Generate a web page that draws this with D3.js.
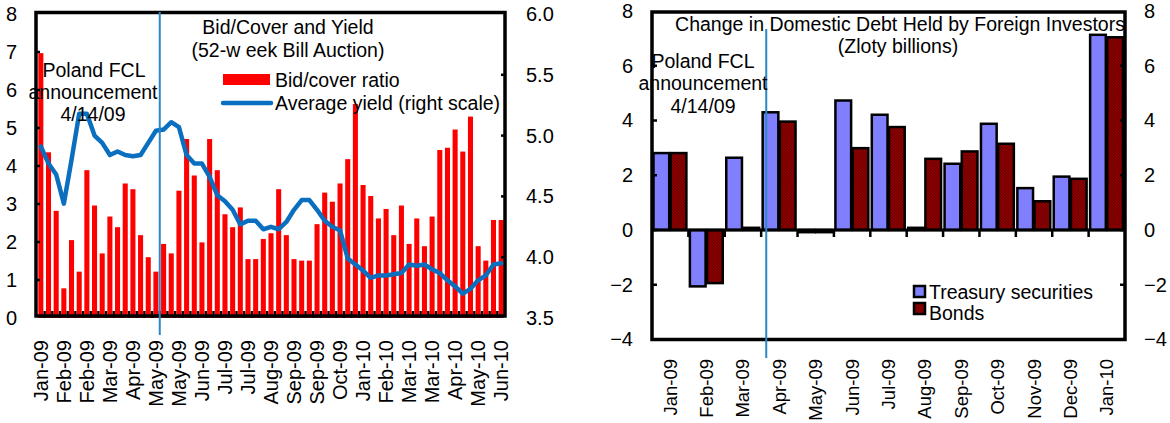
<!DOCTYPE html>
<html>
<head>
<meta charset="utf-8">
<script src="https://cdn.jsdelivr.net/npm/d3@7"></script>
<style>
  body { margin: 0; background: #fff; }
  svg { display: block; font-family: "Liberation Sans", Arial, sans-serif; }
</style>
</head>
<body>
<svg id="chart" width="1170" height="423"></svg>
<script>
// ---- Left panel: 52-week bill auctions ----
const auctionTickLabels = ["Jan-09","Feb-09","Feb-09","Mar-09","Apr-09","May-09","May-09","Jun-09","Jul-09","Jul-09",
  "Aug-09","Sep-09","Sep-09","Oct-09","Jan-10","Feb-10","Mar-10","Mar-10","Apr-10","May-10","Jun-10"];
const bidCover = [6.97,4.36,2.82,0.78,2.05,1.22,3.89,2.96,1.70,2.67,2.39,3.54,3.39,2.18,1.60,1.22,
  1.95,1.70,3.35,4.71,3.75,1.99,4.71,3.89,2.73,2.39,2.91,1.55,1.55,2.08,2.23,
  3.39,2.18,1.55,1.51,1.51,2.47,3.30,3.06,3.54,4.18,5.63,3.50,3.21,2.62,2.87,2.18,
  2.96,1.95,2.62,1.89,2.67,4.42,4.48,4.96,4.38,5.30,1.89,1.51,2.58,2.58];
const avgYield = [4.91,4.77,4.68,4.44,4.80,5.18,5.18,5.00,4.94,4.84,4.87,4.84,4.83,4.84,4.94,5.04,
  5.05,5.11,5.07,4.84,4.77,4.77,4.66,4.51,4.46,4.39,4.27,4.30,4.30,4.23,4.25,
  4.23,4.29,4.39,4.47,4.47,4.39,4.30,4.25,4.22,3.99,3.94,3.89,3.83,3.85,3.85,3.86,
  3.87,3.94,3.93,3.94,3.90,3.87,3.81,3.76,3.70,3.74,3.81,3.85,3.94,3.95];
const ratioTicks = [0,1,2,3,4,5,6,7,8];
const yieldTicks = [3.5,4.0,4.5,5.0,5.5,6.0];
const fclAuctionIndex = 16; // first auction after the FCL announcement

// ---- Right panel: foreign holdings of domestic debt ----
const months = ["Jan-09","Feb-09","Mar-09","Apr-09","May-09","Jun-09","Jul-09","Aug-09","Sep-09","Oct-09","Nov-09","Dec-09","Jan-10"];
const treasury = [2.81,-2.06,2.64,4.30,-0.08,4.73,4.21,0.08,2.42,3.88,1.53,1.95,7.13];
const bonds    = [2.81,-1.94,0.08,3.96,-0.08,2.99,3.76,2.60,2.87,3.15,1.05,1.87,7.04];
const debtTicks = [-4,-2,0,2,4,6,8];
const fclMonth = "Apr-09";
const fclMonthFraction = 0.14; // 14 April within the month band

const svg = d3.select("#chart");
const FONT = 19.5;

const defs = svg.append("defs");
const pat = defs.append("pattern").attr("id", "bondHatch")
  .attr("patternUnits", "userSpaceOnUse").attr("width", 3).attr("height", 3);
pat.append("rect").attr("width", 3).attr("height", 3).attr("fill", "#8f0000");
pat.append("path").attr("d", "M0,3 L3,0 M-1,1 L1,-1 M2,4 L4,2").attr("stroke", "#5c0000").attr("stroke-width", 0.9);

// ================= LEFT PANEL =================
{
  const L = {x0: 36, x1: 505, y0: 12.5, y1: 316};
  const x = d3.scaleBand().domain(d3.range(bidCover.length)).range([37, 505])
    .paddingInner(0.34).paddingOuter(0.17);
  const yL = d3.scaleLinear().domain([0, 8]).range([318, 14]);
  const yR = d3.scaleLinear().domain([3.5, 6]).range([318, 14]);
  const g = svg.append("g");
  const step = x.step();

  // bars
  g.selectAll("rect.bar").data(bidCover).join("rect")
    .attr("class", "bar")
    .attr("x", (d, i) => x(i))
    .attr("width", x.bandwidth())
    .attr("y", d => yL(d))
    .attr("height", d => yL(0) - yL(d))
    .attr("fill", "#ff0000");

  // small ticks between bars along the base
  const gapX = i => x(i) - step * x.paddingInner() / 2;
  g.selectAll("line.btick").data(d3.range(1, bidCover.length)).join("line")
    .attr("class", "btick")
    .attr("x1", gapX).attr("x2", gapX)
    .attr("y1", 311).attr("y2", 318)
    .attr("stroke", "#000").attr("stroke-width", 2.4);

  // frame
  g.append("rect").attr("x", L.x0).attr("y", L.y0)
    .attr("width", L.x1 - L.x0).attr("height", L.y1 - L.y0)
    .attr("fill", "none").attr("stroke", "#000").attr("stroke-width", 3.5);

  // yield line
  const line = d3.line().x((d, i) => x(i) + x.bandwidth() / 2).y(d => yR(d));
  g.append("path").datum(avgYield).attr("d", line)
    .attr("fill", "none").attr("stroke", "#0a6fbf").attr("stroke-width", 4.5)
    .attr("stroke-linejoin", "round").attr("stroke-linecap", "round");

  // axis ticks (small marks on both frame sides)
  g.selectAll("line.lt").data(ratioTicks.slice(1, -1)).join("line")
    .attr("x1", L.x0 - 1).attr("x2", L.x0 + 4).attr("y1", d => yL(d)).attr("y2", d => yL(d))
    .attr("stroke", "#000").attr("stroke-width", 2.5);
  g.selectAll("line.rt").data(yieldTicks.slice(1, -1)).join("line")
    .attr("x1", L.x1 - 4).attr("x2", L.x1 + 1).attr("y1", d => yR(d)).attr("y2", d => yR(d))
    .attr("stroke", "#000").attr("stroke-width", 2.5);

  // left axis labels
  const axL = d3.axisLeft(yL).tickValues(ratioTicks).tickSize(0).tickPadding(0).tickFormat(d3.format("d"));
  const gl = g.append("g").attr("transform", "translate(17,0)").call(axL);
  gl.select(".domain").remove();
  gl.selectAll("text").attr("font-size", 20).attr("font-family", "Liberation Sans, Arial").attr("fill", "#000");

  // right axis labels
  const axR = d3.axisRight(yR).tickValues(yieldTicks).tickSize(0).tickPadding(0).tickFormat(d3.format(".1f"));
  const gr = g.append("g").attr("transform", "translate(526,0)").call(axR);
  gr.select(".domain").remove();
  gr.selectAll("text").attr("font-size", 20).attr("font-family", "Liberation Sans, Arial").attr("fill", "#000");

  // category labels every third auction
  const labelIdx = d3.range(0, bidCover.length, 3);
  const axB = d3.axisBottom(x).tickValues(labelIdx).tickSize(0)
    .tickFormat((d, i) => auctionTickLabels[i]);
  const gb = g.append("g").attr("transform", "translate(0,340)").call(axB);
  gb.select(".domain").remove();
  gb.selectAll("text")
    .attr("font-size", 20).attr("font-family", "Liberation Sans, Arial").attr("fill", "#000")
    .attr("transform", "rotate(-90)")
    .attr("text-anchor", "end").attr("x", 0).attr("y", 0).attr("dy", "0.35em");

  // announcement marker
  const vx = gapX(fclAuctionIndex);
  g.append("line").attr("x1", vx).attr("x2", vx).attr("y1", 12).attr("y2", 335)
    .attr("stroke", "#2a88c8").attr("stroke-width", 2);

  const txt = (t, tx, ty, anchor = "middle") => g.append("text").text(t)
    .attr("x", tx).attr("y", ty).attr("dy", "0.35em").attr("text-anchor", anchor)
    .attr("font-size", FONT).attr("fill", "#000");

  txt("Poland FCL", 94, 70);
  txt("announcement", 93, 92);
  txt("4/14/09", 93, 114);

  txt("Bid/Cover and Yield", 288, 27);
  txt("(52-w eek Bill Auction)", 288, 50);

  // legend
  g.append("rect").attr("x", 223).attr("y", 74).attr("width", 47).attr("height", 11).attr("fill", "#ff0000");
  txt("Bid/cover ratio", 275, 80, "start");
  g.append("line").attr("x1", 223).attr("x2", 271).attr("y1", 103).attr("y2", 103)
    .attr("stroke", "#0a6fbf").attr("stroke-width", 4.5).attr("stroke-linecap", "round");
  txt("Average yield (right scale)", 275, 103, "start");
}

// ================= RIGHT PANEL =================
{
  const R = {x0: 652, x1: 1125, y0: 12, y1: 339.5};
  const x = d3.scaleBand().domain(months).range([R.x0, R.x1]);
  const y = d3.scaleLinear().domain([-4, 8]).range([339.5, 11]);
  const g = svg.append("g");
  const step = x.step();
  const bw = step / 2 - 2.5;

  const barAttrs = (sel, offset) => sel
    .attr("x", (d, i) => x(months[i]) + offset)
    .attr("width", bw)
    .attr("y", d => y(Math.max(0, d)))
    .attr("height", d => Math.abs(y(d) - y(0)))
    .attr("stroke", "#000").attr("stroke-width", 2.5);

  barAttrs(g.selectAll("rect.t").data(treasury).join("rect").attr("class", "t").attr("fill", "#8080ff"), 1.5);
  barAttrs(g.selectAll("rect.b").data(bonds).join("rect").attr("class", "b").attr("fill", "url(#bondHatch)"), step / 2 + 0.5);

  // zero line with ticks between months
  g.append("line").attr("x1", R.x0).attr("x2", R.x1).attr("y1", y(0)).attr("y2", y(0))
    .attr("stroke", "#000").attr("stroke-width", 3);
  g.selectAll("line.mt").data(months.slice(1)).join("line")
    .attr("x1", d => x(d)).attr("x2", d => x(d)).attr("y1", y(0)).attr("y2", y(0) + 7)
    .attr("stroke", "#000").attr("stroke-width", 2.5);

  // frame
  g.append("rect").attr("x", R.x0).attr("y", R.y0)
    .attr("width", R.x1 - R.x0).attr("height", R.y1 - R.y0)
    .attr("fill", "none").attr("stroke", "#000").attr("stroke-width", 3.5);

  // value ticks on both sides
  g.selectAll("line.lt").data(debtTicks.slice(1, -1)).join("line")
    .attr("x1", R.x0).attr("x2", R.x0 + 5).attr("y1", d => y(d)).attr("y2", d => y(d))
    .attr("stroke", "#000").attr("stroke-width", 2.5);
  g.selectAll("line.rt").data(debtTicks.slice(1, -1)).join("line")
    .attr("x1", R.x1 - 5).attr("x2", R.x1).attr("y1", d => y(d)).attr("y2", d => y(d))
    .attr("stroke", "#000").attr("stroke-width", 2.5);

  const axL = d3.axisLeft(y).tickValues(debtTicks).tickSize(0).tickPadding(0).tickFormat(d3.format("d"));
  const gl = g.append("g").attr("transform", "translate(633,0)").call(axL);
  gl.select(".domain").remove();
  gl.selectAll("text").attr("font-size", 20).attr("font-family", "Liberation Sans, Arial").attr("fill", "#000");

  const axR = d3.axisRight(y).tickValues(debtTicks).tickSize(0).tickPadding(0).tickFormat(d3.format("d"));
  const gr = g.append("g").attr("transform", "translate(1144,0)").call(axR);
  gr.select(".domain").remove();
  gr.selectAll("text").attr("font-size", 20).attr("font-family", "Liberation Sans, Arial").attr("fill", "#000");

  const axB = d3.axisBottom(x).tickSize(0);
  const gb = g.append("g").attr("transform", "translate(0,359)").call(axB);
  gb.select(".domain").remove();
  gb.selectAll("text")
    .attr("font-size", 18.5).attr("font-family", "Liberation Sans, Arial").attr("fill", "#000")
    .attr("transform", "rotate(-90)")
    .attr("text-anchor", "end").attr("x", 0).attr("y", 0).attr("dy", "0.35em");

  // announcement marker
  const vx = x(fclMonth) + step * fclMonthFraction;
  g.append("line").attr("x1", vx).attr("x2", vx).attr("y1", 29).attr("y2", 358)
    .attr("stroke", "#2a88c8").attr("stroke-width", 2);

  const txt = (t, tx, ty, anchor = "middle") => g.append("text").text(t)
    .attr("x", tx).attr("y", ty).attr("dy", "0.35em").attr("text-anchor", anchor)
    .attr("font-size", FONT).attr("fill", "#000");

  txt("Change in Domestic Debt Held by Foreign Investors", 900, 24);
  txt("(Zloty billions)", 898, 46);

  txt("Poland FCL", 703, 61);
  txt("announcement", 703, 83);
  txt("4/14/09", 703, 106);

  // legend
  g.append("rect").attr("x", 914).attr("y", 286).attr("width", 11).attr("height", 11)
    .attr("fill", "#8080ff").attr("stroke", "#000").attr("stroke-width", 2.5);
  txt("Treasury securities", 929, 292, "start");
  g.append("rect").attr("x", 914).attr("y", 303).attr("width", 11).attr("height", 11)
    .attr("fill", "url(#bondHatch)").attr("stroke", "#000").attr("stroke-width", 2.5);
  txt("Bonds", 929, 313, "start");
}
</script>
</body>
</html>
